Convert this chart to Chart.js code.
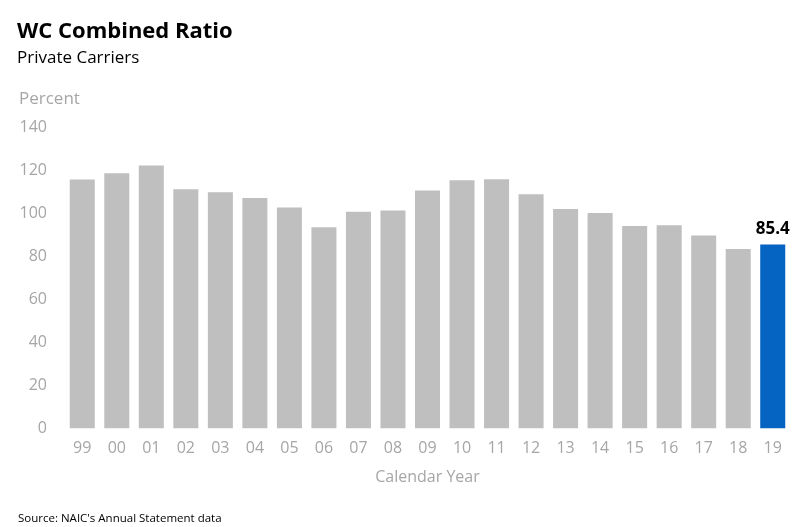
<!DOCTYPE html>
<html>
<head>
<meta charset="utf-8">
<script src="https://cdn.jsdelivr.net/npm/chart.js@4"></script>
<style>
  html, body { margin: 0; padding: 0; background: #fff; }
  #wrap { width: 800px; height: 527px; }
</style>
</head>
<body>
<div id="wrap"><canvas id="RatioChart" width="800" height="527"></canvas></div>
<script>
// data
const years = ['99','00','01','02','03','04','05','06','07','08','09','10','11','12','13','14','15','16','17','18','19'];
const combinedRatio = [115.6, 118.5, 122.1, 111.1, 109.7, 107.0, 102.6, 93.5, 100.7, 101.2, 110.5, 115.3, 115.8, 108.8, 101.9, 100.1, 94.0, 94.4, 89.6, 83.4, 85.4];
const yTicks = [0, 20, 40, 60, 80, 100, 120, 140];

const FONT = 'Open Sans';
const GREY_TEXT = '#a6a6a6';

const barColors = combinedRatio.map((v, i) => i === combinedRatio.length - 1 ? '#0563c1' : '#bfbfbf');

// titles, the "Percent" label, source note and the value on the last bar
const textPlugin = {
    id: 'texts',
    afterDraw(chart) {
        const ctx = chart.ctx;
        ctx.save();
        ctx.textBaseline = 'alphabetic';
        ctx.textAlign = 'left';

        ctx.fillStyle = '#000';
        ctx.font = 'bold 22px "' + FONT + '"';
        ctx.fillText('WC Combined Ratio', 17, 38);

        ctx.font = '17px "' + FONT + '"';
        ctx.fillText('Private Carriers', 17, 63);

        ctx.fillStyle = GREY_TEXT;
        ctx.font = '17px "' + FONT + '"';
        ctx.fillText('Percent', 19, 104);

        ctx.fillStyle = '#000';
        ctx.font = '11.5px "' + FONT + '"';
        ctx.fillText("Source: NAIC's Annual Statement data", 18, 522);

        // label on the highlighted (last) bar
        const meta = chart.getDatasetMeta(0);
        const last = meta.data[meta.data.length - 1];
        ctx.textAlign = 'center';
        ctx.font = 'bold 17px "' + FONT + '"';
        ctx.fillText(combinedRatio[combinedRatio.length - 1].toFixed(1), last.x, last.y - 11);
        ctx.restore();
    }
};

const ctx = document.getElementById('RatioChart').getContext('2d');
new Chart(ctx, {
    type: 'bar',
    data: {
        labels: years,
        datasets: [{
            data: combinedRatio,
            backgroundColor: barColors,
            borderWidth: 0,
            categoryPercentage: 1.0,
            barPercentage: 0.725
        }]
    },
    options: {
        responsive: false,
        animation: false,
        layout: { padding: { top: 127, left: 0, right: 10, bottom: 40 } },
        plugins: {
            legend: { display: false },
            tooltip: { enabled: false }
        },
        scales: {
            x: {
                grid: { display: false, drawTicks: false },
                border: { display: false },
                ticks: {
                    color: GREY_TEXT,
                    font: { size: 16, family: FONT },
                    padding: 10
                },
                title: {
                    display: true,
                    text: 'Calendar Year',
                    color: GREY_TEXT,
                    font: { size: 16, family: FONT },
                    padding: { top: 0, bottom: 0 }
                }
            },
            y: {
                min: 0,
                max: 140,
                afterBuildTicks: (scale) => { scale.ticks = yTicks.map(v => ({ value: v })); },
                afterFit: (scale) => { scale.width = 65; },
                grid: { display: false, drawTicks: false },
                border: { display: false },
                ticks: {
                    color: GREY_TEXT,
                    font: { size: 16, family: FONT },
                    padding: 18
                }
            }
        }
    },
    plugins: [textPlugin]
});
</script>
</body>
</html>
